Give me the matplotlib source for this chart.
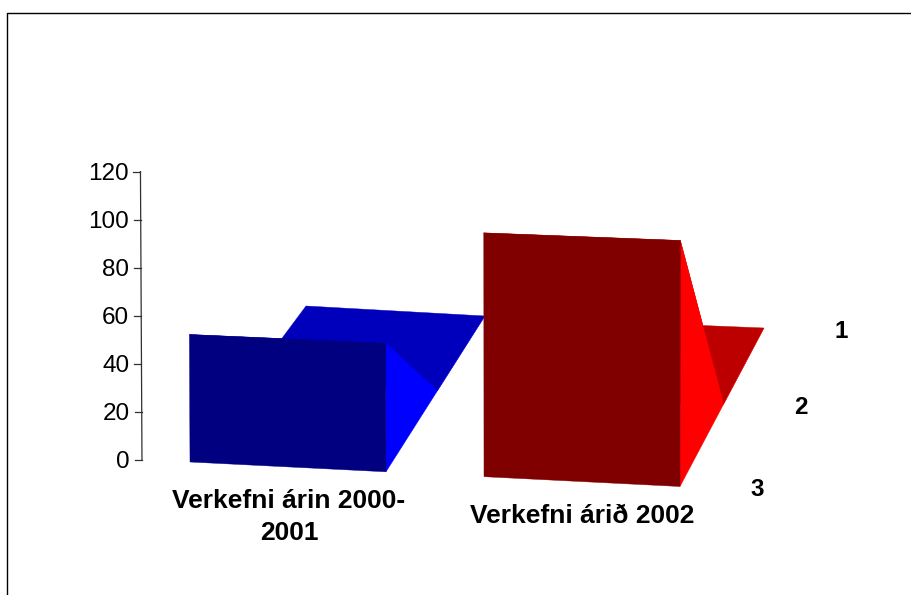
#!/usr/bin/env python3
# -*- coding: utf-8 -*-

"""
3D area chart with two categories and three series, drawn on a flat axes
"""

import matplotlib
matplotlib.use('Agg')
import matplotlib.pyplot as plt

plt.rcParams['font.family'] = ['Liberation Sans', 'DejaVu Sans']

# Data
categories = ['Verkefni árin 2000-\n2001', 'Verkefni árið 2002']
series_names = ['1', '2', '3']
values_2000_2001 = [0, 0, 53]
values_2002 = [0, 0, 100]
y_ticks = [0, 20, 40, 60, 80, 100, 120]

# Depth of series 1, 2, 3 (0 is the front of the floor, 1 is the back)
DEPTHS = [1.0, 0.52, 0.0]

# Left and right end of each category along the floor
SPANS = [(0.0, 0.4), (0.6, 1.0)]
AXIS_U = -0.098

# front / side / floor colors for each category
COLORS = [('#000080', '#0000ff', '#0000bc'), ('#800000', '#ff0000', '#bc0000')]


def project(u, d, v):
    """
    Map a point of the 3D chart to figure pixels

    Args:
        :u: (float) Position along the categories
        :d: (float) Depth
        :v: (float) Value
    """

    x_front = 190 + 490*u
    x_back = 306 + 440*u + 18*u**2
    y_front = 462 + 24.5*u
    y_back = 306 + 27*u - 5*u**2

    x = x_front + d*(x_back - x_front) + 0.015*(u - 0.75)*v
    y = y_front + d*(y_back - y_front) - (2.405 + 0.055*u)*v
    return x, y


def fill_poly(ax, points, color):
    xs, ys = zip(*[project(*p) for p in points])
    ax.fill(xs, ys, color=color, linewidth=0.3, zorder=2)


def draw_category(ax, span, values, colors):
    """Draw one category from the back series to the front series"""

    u0, u1 = span
    c_front, c_side, c_floor = colors

    for i in range(len(values) - 1):
        d0, d1 = DEPTHS[i], DEPTHS[i+1]
        v0, v1 = values[i], values[i+1]
        fill_poly(ax, [(u0, d0, v0), (u1, d0, v0), (u1, d1, v1), (u0, d1, v1)], c_floor)
        fill_poly(ax, [(u1, d0, v0), (u1, d1, v1), (u1, d1, 0), (u1, d0, 0)], c_side)

    v = values[-1]
    d = DEPTHS[-1]
    fill_poly(ax, [(u0, d, 0), (u1, d, 0), (u1, d, v), (u0, d, v)], c_front)


def main():
    fig = plt.figure(figsize=(9.12, 5.95), dpi=100)
    ax = fig.add_axes([0, 0, 1, 1])
    ax.set_xlim(0, 912)
    ax.set_ylim(595, 0)
    ax.axis('off')

    # Frame around the chart, cut off at the right and at the bottom
    ax.plot([7.5, 7.5, 912], [595, 12.5, 12.5], color='black', linewidth=1)

    # Value axis
    xs, ys = zip(*[project(AXIS_U, 0, v) for v in (y_ticks[0], y_ticks[-1])])
    ax.plot(xs, ys, color='#303030', linewidth=0.9)
    for tick in y_ticks:
        x, y = project(AXIS_U, 0, tick)
        ax.plot([x - 7, x], [y, y], color='#303030', linewidth=0.9)
        ax.text(x - 12, y + 2, str(tick), ha='right', va='center', fontsize=17.5)

    for span, values, colors in zip(SPANS, (values_2000_2001, values_2002), COLORS):
        draw_category(ax, span, values, colors)

    # Category labels
    ax.text(289, 517, categories[0], ha='center', va='center', fontsize=19,
            fontweight='bold', linespacing=1.38)
    ax.text(582, 516, categories[1], ha='center', va='center', fontsize=19,
            fontweight='bold')

    # Series labels, next to the floor edge
    for name, d in zip(series_names, DEPTHS):
        x, y = project(1, d, 0)
        ax.text(x + 77.5, y + 3, name, ha='center', va='center', fontsize=17.5,
                fontweight='bold')

    fig.savefig('out.png', dpi=100)
    plt.close('all')


if __name__ == '__main__':
    main()
